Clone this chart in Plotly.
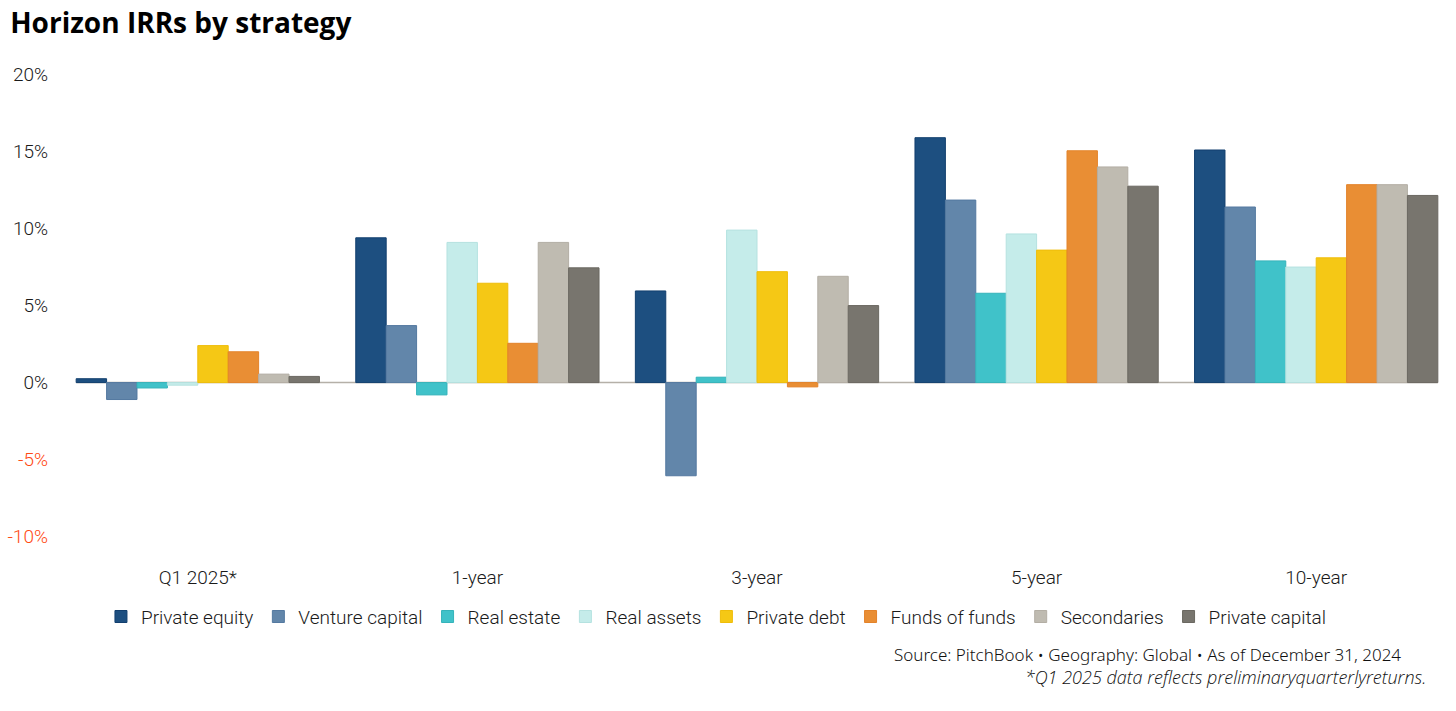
import plotly.graph_objects as go

categories = ["Q1 2025*", "1-year", "3-year", "5-year", "10-year"]

series_names = ["Private equity", "Venture capital", "Real estate", "Real assets",
                "Private debt", "Funds of funds", "Secondaries", "Private capital"]

private_equity = [0.25, 9.4, 5.95, 15.9, 15.1]
venture_capital = [-1.1, 3.7, -6.05, 11.85, 11.4]
real_estate = [-0.35, -0.8, 0.35, 5.8, 7.9]
real_assets = [-0.17, 9.1, 9.9, 9.65, 7.5]
private_debt = [2.4, 6.45, 7.2, 8.6, 8.1]
funds_of_funds = [2.0, 2.55, -0.28, 15.05, 12.85]
secondaries = [0.55, 9.1, 6.9, 14.0, 12.85]
private_capital = [0.4, 7.45, 5.0, 12.75, 12.15]

values = [private_equity, venture_capital, real_estate, real_assets,
          private_debt, funds_of_funds, secondaries, private_capital]

colors = ["#1d4f80", "#6286aa", "#40c2c9", "#c5ecea",
          "#f5c815", "#e98e34", "#bfbbb1", "#78756e"]
line_colors = ["#123f6e", "#5479a0", "#35b3ba", "#b5e2e0",
               "#efbd0a", "#e3832a", "#b3aea4", "#6b6861"]

y_ticks = [-10, -5, 0, 5, 10, 15, 20]
y_tick_labels = ["-10%", "-5%", "0%", "5%", "10%", "15%", "20%"]

bargap = 0.13
axis_font = "Roboto"
text_color = "#1a1a1a"

fig = go.Figure()
for name, vals, c, lc in zip(series_names, values, colors, line_colors):
    fig.add_trace(go.Bar(
        x=categories, y=vals, name=name,
        marker=dict(color=c, line=dict(color=lc, width=1)),
    ))

ticktext = []
for v, t in zip(y_ticks, y_tick_labels):
    if v < 0:
        ticktext.append(f"<span style='color:#ff4a14'>{t}</span>")
    else:
        ticktext.append(t)

fig.update_layout(
    width=1456, height=711,
    paper_bgcolor="white", plot_bgcolor="white",
    barmode="group", bargap=bargap, bargroupgap=0,
    margin=dict(l=58, r=0, t=73, b=159),
    font=dict(family=axis_font, color=text_color, size=19, weight=300),
    title=dict(text="<b>Horizon IRRs by strategy</b>", x=0.007, xanchor="left",
               y=0.967, yanchor="middle",
               font=dict(family="Open Sans", size=28, color="#000000", weight=700)),
    showlegend=True,
    legend=dict(orientation="h", x=0.471, xanchor="center", y=-0.135, yanchor="middle",
                font=dict(family=axis_font, size=19, color=text_color, weight=300),
                itemwidth=30, traceorder="normal"),
    xaxis=dict(showgrid=False, showline=False, zeroline=False, ticks="",
               tickfont=dict(family=axis_font, size=19, color=text_color, weight=300),
               ticklabelstandoff=12),
    yaxis=dict(range=[-11, 20.1], tickvals=y_ticks, ticktext=ticktext,
               showgrid=False, zeroline=False, showline=False, ticks="",
               ticklabelstandoff=9,
               tickfont=dict(family=axis_font, size=19, color=text_color, weight=300)),
)

n = len(categories)
fig.add_shape(type="line", xref="x", yref="y",
              x0=-0.5 + bargap / 2, x1=n - 0.5 - bargap / 2, y0=0, y1=0,
              line=dict(color="#b5b0a8", width=1.5), layer="below")

fig.add_annotation(text="Source: PitchBook \u2022 Geography: Global \u2022 As of December 31, 2024",
                   xref="paper", yref="paper", x=0.962, y=-0.215,
                   xanchor="right", yanchor="middle", showarrow=False,
                   font=dict(family="Noto Sans", size=17, color="#111111"))
fig.add_annotation(text="<i>*Q1 2025 data reflects preliminaryquarterlyreturns.</i>",
                   xref="paper", yref="paper", x=0.98, y=-0.262,
                   xanchor="right", yanchor="middle", showarrow=False,
                   font=dict(family="Open Sans", size=18, color="#111111"))

fig.write_html("out.html", config={"displayModeBar": False},
               post_script="document.body.style.margin='0';")
